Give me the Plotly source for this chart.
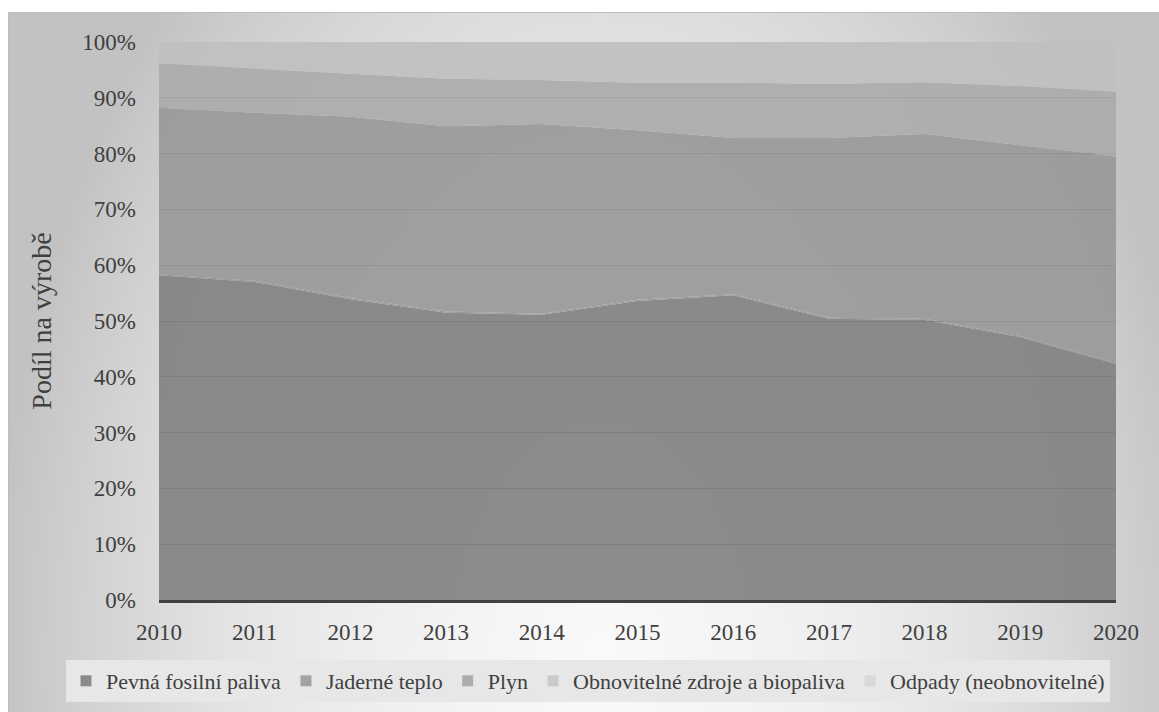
import base64
import struct
import zlib

import numpy as np
import plotly.graph_objects as go

# Podíl jednotlivých paliv na výrobě tepla (%)
roky = [2010, 2011, 2012, 2013, 2014, 2015, 2016, 2017, 2018, 2019, 2020]
pevna_fosilni = [58.2, 57.0, 53.9, 51.5, 51.1, 53.6, 54.6, 50.4, 50.2, 47.1, 42.3]
jaderne_teplo = [0.2, 0.2, 0.2, 0.2, 0.2, 0.2, 0.2, 0.2, 0.2, 0.2, 0.2]
plyn = [29.8, 30.1, 32.5, 33.2, 34.0, 30.4, 28.0, 32.2, 33.1, 34.2, 37.0]
obnovitelne = [8.0, 7.9, 7.7, 8.5, 7.9, 8.5, 9.9, 9.7, 9.3, 10.6, 11.6]
odpady = [3.8, 4.8, 5.7, 6.6, 6.8, 7.3, 7.3, 7.5, 7.2, 7.9, 8.9]

nazvy = [
    "Pevná fosilní paliva",
    "Jaderné teplo",
    "Plyn",
    "Obnovitelné zdroje a biopaliva",
    "Odpady (neobnovitelné)",
]
rady = [pevna_fosilni, jaderne_teplo, plyn, obnovitelne, odpady]
barvy = [
    "rgba(130,130,130,0.93)",
    "rgba(148,148,148,0.93)",
    "rgba(153,153,153,0.93)",
    "rgba(171,171,171,0.93)",
    "rgba(192,192,192,0.93)",
]
barvy_legenda = ["#8a8a8a", "#a3a3a3", "#adadad", "#cacaca", "#d9d9d9"]

FONT = "Liberation Serif"
TEXT = "#404040"
W, H = 1159, 712
L, R, T, B = 159, 43, 42, 112
PW, PH = W - L - R, H - T - B


def gray_png(arr):
    """Encode a 2-D uint8 array as a grayscale PNG data URI."""
    h, w = arr.shape
    raw = b"".join(b"\x00" + arr[i].tobytes() for i in range(h))

    def chunk(tag, data):
        c = struct.pack(">I", len(data)) + tag + data
        return c + struct.pack(">I", zlib.crc32(tag + data) & 0xFFFFFFFF)

    png = b"\x89PNG\r\n\x1a\n"
    png += chunk(b"IHDR", struct.pack(">IIBBBBB", w, h, 8, 0, 0, 0, 0))
    png += chunk(b"IDAT", zlib.compress(raw, 9))
    png += chunk(b"IEND", b"")
    return "data:image/png;base64," + base64.b64encode(png).decode()


# Radial grey background of the chart box
bx0, by0, bx1, by1 = 8, 12, W, H
gw, gh = 290, 176
xs = np.linspace(bx0, bx1, gw)
ys = np.linspace(by0, by1, gh)
gx, gy = np.meshgrid(xs, ys)
r = np.sqrt(((gx - 600) / 580.0) ** 2 + ((gy - 660) / 900.0) ** 2)
val = np.clip(250 - 24 * r - 26 * r ** 3, 194, 250).astype(np.uint8)
bg_uri = gray_png(val)

fig = go.Figure()
for nazev, hodnoty, barva in zip(nazvy, rady, barvy):
    fig.add_trace(
        go.Scatter(
            x=roky,
            y=hodnoty,
            name=nazev,
            mode="lines",
            stackgroup="one",
            line=dict(width=0, color=barva),
            fillcolor=barva,
            showlegend=False,
            legendgroup=nazev,
            hoverinfo="x+y+name",
        )
    )

# Square legend keys
for nazev, barva in zip(nazvy, barvy_legenda):
    fig.add_trace(
        go.Scatter(
            x=[None],
            y=[None],
            name=nazev,
            mode="markers",
            marker=dict(symbol="square", size=11, color=barva, line=dict(width=0)),
            legendgroup=nazev,
            showlegend=True,
            hoverinfo="skip",
        )
    )


def px_x(p):
    return (p - L) / PW


def px_y(p):
    return (H - B - p) / PH


fig.add_layout_image(
    dict(
        source=bg_uri,
        xref="paper",
        yref="paper",
        x=px_x(bx0),
        y=px_y(by0),
        sizex=(bx1 - bx0) / PW,
        sizey=(by1 - by0) / PH,
        xanchor="left",
        yanchor="top",
        sizing="stretch",
        layer="below",
    )
)

fig.add_shape(
    type="rect",
    xref="paper",
    yref="paper",
    x0=px_x(bx0 + 0.5),
    y0=px_y(by1 + 2),
    x1=px_x(bx1 + 2),
    y1=px_y(by0 + 0.5),
    line=dict(color="#bdbdbd", width=1),
    fillcolor="rgba(0,0,0,0)",
    layer="below",
)

fig.update_layout(
    template="none",
    width=W,
    height=H,
    margin=dict(l=L, r=R, t=T, b=B, autoexpand=False),
    paper_bgcolor="white",
    plot_bgcolor="white",
    font=dict(family=FONT, size=23, color=TEXT),
    showlegend=True,
    legend=dict(
        orientation="h",
        x=px_x(66),
        xanchor="left",
        y=px_y(681),
        yanchor="middle",
        bgcolor="#e7e7e7",
        font=dict(family=FONT, size=22, color=TEXT),
        traceorder="normal",
        itemwidth=30,
        tracegroupgap=0,
    ),
)
fig.update_xaxes(
    range=[2010, 2020],
    tickmode="array",
    tickvals=roky,
    ticktext=[str(v) for v in roky],
    showgrid=False,
    zeroline=False,
    showline=True,
    linecolor=TEXT,
    linewidth=3,
    ticks="",
    ticklabelstandoff=9,
    tickfont=dict(family=FONT, size=23, color=TEXT),
    fixedrange=True,
)
fig.update_yaxes(
    range=[0, 100],
    dtick=10,
    ticksuffix="%",
    showgrid=True,
    gridcolor="#505050",
    gridwidth=1,
    zeroline=False,
    showline=False,
    ticks="",
    ticklabelstandoff=22,
    tickfont=dict(family=FONT, size=23, color=TEXT),
    title=dict(
        text="Podíl na výrobě",
        font=dict(family=FONT, size=28, color=TEXT),
        standoff=22,
    ),
    fixedrange=True,
)

fig.write_html("out.html")
